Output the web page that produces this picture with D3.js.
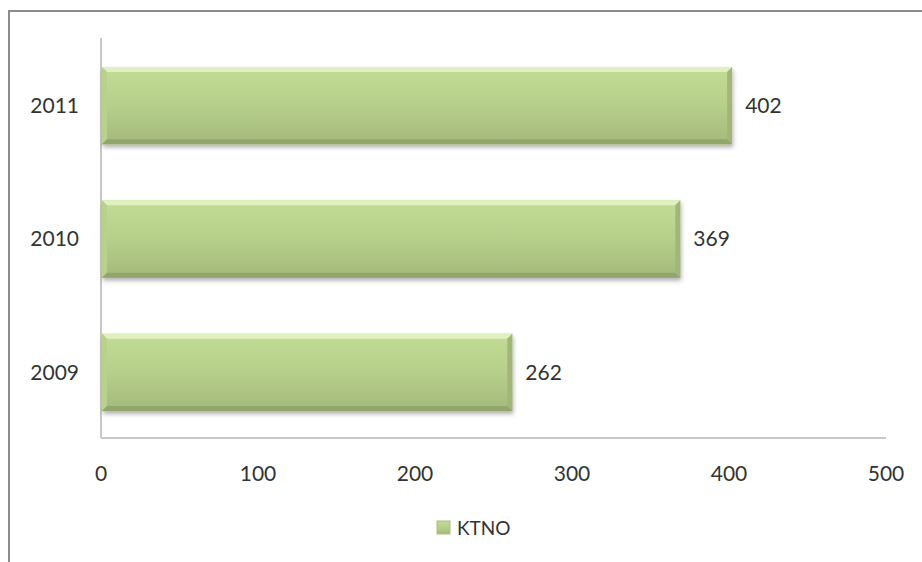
<!DOCTYPE html>
<html>
<head>
<meta charset="utf-8">
<script src="https://cdn.jsdelivr.net/npm/d3@7"></script>
<style>
  body { margin: 0; background: #fff; }
  svg { display: block; }
  text { font-family: Lato, "Open Sans", sans-serif; fill: #333; }
</style>
</head>
<body>
<svg id="chart" width="922" height="562"></svg>
<script>
// data
const years = ["2011", "2010", "2009"];
const ktno = [402, 369, 262];
const xTicks = [0, 100, 200, 300, 400, 500];
const seriesName = "KTNO";

const svg = d3.select("#chart");
const W = 922, H = 562;
const plotLeft = 101, plotRight = 886, plotTop = 38, plotBottom = 438;

// outer frame (only top and left edges show in the crop)
svg.append("path")
    .attr("d", `M9,${H} V11 H${W}`)
    .attr("fill", "none")
    .attr("stroke", "#8c8c8c")
    .attr("stroke-width", 2);

const x = d3.scaleLinear().domain([0, 500]).range([plotLeft, plotRight]);
const y = d3.scaleBand().domain(years).range([plotTop + 1, plotBottom + 1]).paddingInner(0.42).paddingOuter(0.21);

const defs = svg.append("defs");
const grad = defs.append("linearGradient").attr("id", "barGrad")
    .attr("x1", 0).attr("y1", 0).attr("x2", 0).attr("y2", 1);
grad.append("stop").attr("offset", "0%").attr("stop-color", "#c2db95");
grad.append("stop").attr("offset", "50%").attr("stop-color", "#b6cf8a");
grad.append("stop").attr("offset", "100%").attr("stop-color", "#a4b97b");

const shadow = defs.append("filter").attr("id", "shadow")
    .attr("x", "-5%").attr("y", "-20%").attr("width", "110%").attr("height", "150%");
shadow.append("feDropShadow").attr("dx", 1).attr("dy", 3).attr("stdDeviation", 2)
    .attr("flood-color", "#000").attr("flood-opacity", 0.3);

// axes lines
svg.append("line")
    .attr("x1", plotLeft).attr("x2", plotLeft).attr("y1", plotTop).attr("y2", plotBottom)
    .attr("stroke", "#c8c8c8").attr("stroke-width", 2);
svg.append("line")
    .attr("x1", plotLeft).attr("x2", plotRight).attr("y1", plotBottom).attr("y2", plotBottom)
    .attr("stroke", "#c8c8c8").attr("stroke-width", 2);

// bars
const bev = 5;
const bars = svg.selectAll(".bar")
    .data(years.map((yr, i) => ({ year: yr, value: ktno[i] })))
    .enter()
    .append("g")
    .attr("class", "bar");

bars.append("rect")
    .attr("x", x(0) + 1)
    .attr("y", d => y(d.year))
    .attr("width", d => x(d.value) - x(0) - 1)
    .attr("height", y.bandwidth())
    .attr("fill", "url(#barGrad)")
    .attr("filter", "url(#shadow)");

// bevel edges
bars.append("path") // top highlight
    .attr("d", d => {
        const x0 = x(0) + 1, x1 = x(d.value), y0 = y(d.year);
        return `M${x0},${y0} H${x1} L${x1 - bev},${y0 + bev} H${x0 + bev} Z`;
    })
    .attr("fill", "#e0f0bf");
bars.append("path") // left edge
    .attr("d", d => {
        const x0 = x(0) + 1, y0 = y(d.year), y1 = y0 + y.bandwidth();
        return `M${x0},${y0} L${x0 + bev},${y0 + bev} V${y1 - bev} L${x0},${y1} Z`;
    })
    .attr("fill", "#b9d18c");
bars.append("path") // right edge
    .attr("d", d => {
        const x1 = x(d.value), y0 = y(d.year), y1 = y0 + y.bandwidth();
        return `M${x1},${y0} L${x1 - bev},${y0 + bev} V${y1 - bev} L${x1},${y1} Z`;
    })
    .attr("fill", "#a2b777");
bars.append("path") // bottom edge
    .attr("d", d => {
        const x0 = x(0) + 1, x1 = x(d.value), y1 = y(d.year) + y.bandwidth();
        return `M${x0},${y1} H${x1} L${x1 - bev},${y1 - bev} H${x0 + bev} Z`;
    })
    .attr("fill", "#92a56d");

// value labels
bars.append("text")
    .attr("x", d => x(d.value) + 13)
    .attr("y", d => y(d.year) + y.bandwidth() / 2)
    .attr("dy", "0.35em")
    .attr("font-size", 21)
    .text(d => d.value);

// category labels
svg.selectAll(".ylab")
    .data(years)
    .enter()
    .append("text")
    .attr("class", "ylab")
    .attr("x", 79)
    .attr("y", d => y(d) + y.bandwidth() / 2)
    .attr("dy", "0.35em")
    .attr("text-anchor", "end")
    .attr("font-size", 21)
    .text(d => d);

// x tick labels
svg.selectAll(".xlab")
    .data(xTicks)
    .enter()
    .append("text")
    .attr("class", "xlab")
    .attr("x", d => x(d))
    .attr("y", 474)
    .attr("dy", "0.35em")
    .attr("text-anchor", "middle")
    .attr("font-size", 21)
    .text(d => d);

// legend
const lg = svg.append("g").attr("transform", "translate(437,521)");
lg.append("rect").attr("width", 13).attr("height", 13).attr("fill", "url(#barGrad)")
    .attr("stroke", "#a9bf80").attr("stroke-width", 1);
lg.append("text").attr("x", 20).attr("y", 7).attr("dy", "0.35em")
    .attr("font-size", 19).text(seriesName);
</script>
</body>
</html>
